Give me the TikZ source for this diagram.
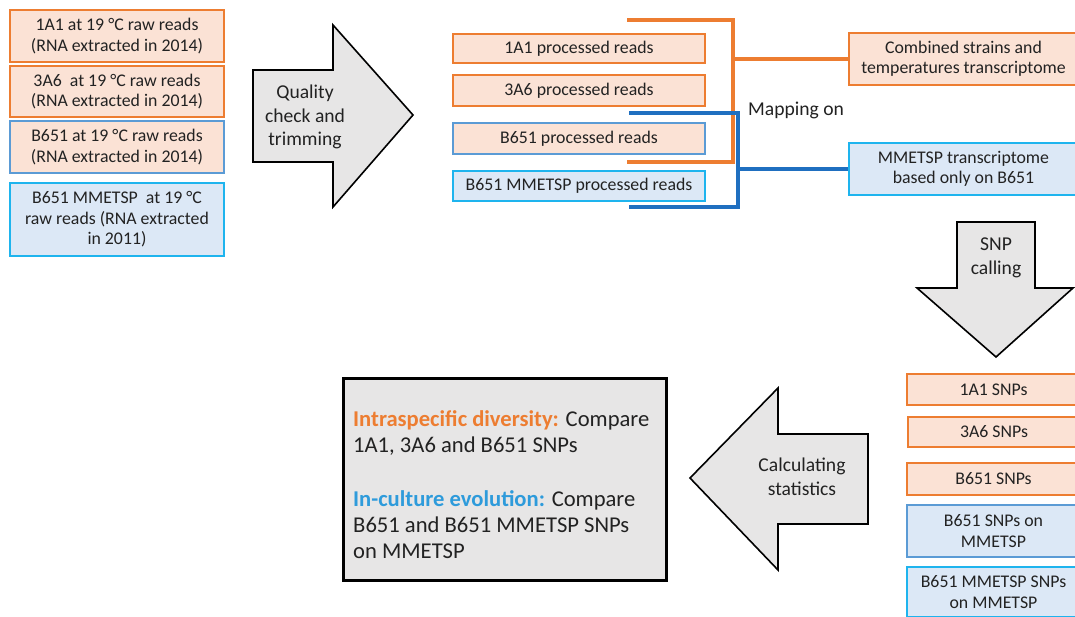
\documentclass[tikz,border=0pt]{standalone}
\usepackage{fontspec}
\setmainfont{Carlito}
\definecolor{ora}{HTML}{ED7D31}
\definecolor{peach}{HTML}{FBE2D5}
\definecolor{blu}{HTML}{5B9BD5}
\definecolor{cya}{HTML}{1EB4EE}
\definecolor{lblue}{HTML}{DCE8F6}
\definecolor{gry}{HTML}{E7E6E6}
\definecolor{dblue}{HTML}{1F6FC0}
\definecolor{tblue}{HTML}{2E9BDB}
\definecolor{tx}{HTML}{222222}
\begin{document}
\begin{tikzpicture}[x=1pt,y=-1pt,
  txt/.style={font=\fontsize{17.8}{20.5}\selectfont, text=tx, align=center, inner sep=0pt},
  bigtxt/.style={font=\fontsize{19.6}{23.5}\selectfont, text=tx, align=center, inner sep=0pt},
  obox/.style={draw=ora, fill=peach, line width=2.4pt, txt},
  pbbox/.style={draw=blu, fill=peach, line width=2.4pt, txt},
  cbox/.style={draw=cya, fill=lblue, line width=2.4pt, txt},
  lbbox/.style={draw=blu, fill=lblue, line width=2.4pt, txt},
  garrow/.style={draw=black, fill=gry, line width=1.6pt, line join=miter},
  obr/.style={draw=ora, line width=3.4pt},
  bbr/.style={draw=dblue, line width=3.4pt}
]
\useasboundingbox (0,0) rectangle (1075,616);
\clip (0,0) rectangle (1075,616);
\fill[white] (0,0) rectangle (1075,616);

% raw reads
\node[obox, minimum width=214pt, minimum height=52pt] (r1) at (117,36) {1A1 at 19 °C raw reads\\(RNA extracted in 2014)};
\node[obox, minimum width=214pt, minimum height=51pt] (r2) at (117,91.5) {3A6\ \ at 19 °C raw reads\\(RNA extracted in 2014)};
\node[pbbox, minimum width=214pt, minimum height=52pt] (r3) at (117,147) {B651 at 19 °C raw reads\\(RNA extracted in 2014)};
\node[cbox, minimum width=214pt, minimum height=73pt] (r4) at (117,219.5) {B651 MMETSP\ \ at 19 °C\\raw reads (RNA extracted\\in 2011)};

% quality arrow
\draw[garrow] (253,70) -- (333,70) -- (333,25) -- (413,115) -- (333,207) -- (333,162) -- (253,162) -- cycle;
\node[bigtxt] (qc) at (305,117) {Quality\\check and\\trimming};

% processed reads
\node[obox, minimum width=252pt, minimum height=29pt] (p1) at (579,48.5) {1A1 processed reads};
\node[obox, minimum width=252pt, minimum height=31pt] (p2) at (579,90.5) {3A6 processed reads};
\node[pbbox, minimum width=252pt, minimum height=31pt] (p3) at (579,138.5) {B651 processed reads};
\node[cbox, minimum width=252pt, minimum height=30pt] (p4) at (579,186) {B651 MMETSP processed reads};

% transcriptomes
\node[obox, minimum width=229pt, minimum height=52pt] (t1) at (963.5,59) {Combined strains and\\temperatures transcriptome};
\node[cbox, minimum width=229pt, minimum height=52pt] (t2) at (963.5,169) {MMETSP transcriptome\\based only on B651};

% brackets
\coordinate (oTop) at (627,20);
\coordinate (oBot) at (627,162);
\coordinate (bTop) at (629,113);
\coordinate (bBot) at (629,207);
\draw[obr] (oTop) -- ++(106,0) |- (oBot);
\draw[obr] (t1.west) -- ++(-116.5,0);
\draw[bbr] (bTop) -- ++(109,0) |- (bBot);
\draw[bbr] (t2.west) -- ++(-111.5,0);
\node[bigtxt, anchor=west] (map) at (748,110) {Mapping on};

% SNP calling arrow
\draw[garrow] (957,222) -- (1035,222) -- (1035,288) -- (1073,288) -- (996,357) -- (917,288) -- (957,288) -- cycle;
\node[bigtxt] (snp) at (996,258) {SNP\\calling};

% SNP boxes
\node[obox, minimum width=173pt, minimum height=31pt] (s1) at (993.5,389.5) {1A1 SNPs};
\node[obox, minimum width=172pt, minimum height=30pt] (s2) at (994,432) {3A6 SNPs};
\node[obox, minimum width=173pt, minimum height=32pt] (s3) at (993.5,479) {B651 SNPs};
\node[lbbox, minimum width=173pt, minimum height=52pt] (s4) at (993.5,531) {B651 SNPs on\\MMETSP};
\node[cbox, minimum width=173pt, minimum height=50pt] (s5) at (993.5,592) {B651 MMETSP SNPs\\on MMETSP};

% statistics arrow
\draw[garrow] (690,478) -- (778,388) -- (778,434) -- (868,434) -- (868,524) -- (778,524) -- (778,570) -- cycle;
\node[bigtxt] (calc) at (802,477) {Calculating\\statistics};

% result box
\node[draw=black, fill=gry, line width=3pt, minimum width=323pt, minimum height=202pt, inner sep=0pt] (res) at (504.5,479) {};
\node[anchor=west, align=left, inner sep=0pt, text=tx, font=\fontsize{22.6}{26}\selectfont] (restxt) at (353,485)
  {{\color{ora}\bfseries Intraspecific diversity:} Compare\\1A1, 3A6 and B651 SNPs\\[28pt]{\color{tblue}\bfseries In-culture evolution:} Compare\\B651 and B651 MMETSP SNPs\\on MMETSP};
\end{tikzpicture}
\end{document}
